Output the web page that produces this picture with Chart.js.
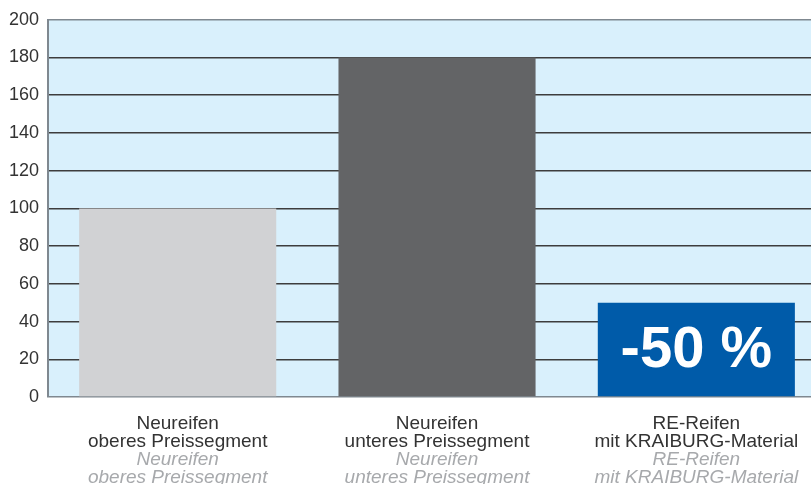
<!DOCTYPE html>
<html>
<head>
<meta charset="utf-8">
<script src="https://cdn.jsdelivr.net/npm/chart.js@4"></script>
<style>
  html, body { margin: 0; padding: 0; background: #fff; overflow: hidden; }
  #wrap { position: relative; width: 826px; height: 487px; }
</style>
</head>
<body>
<div id="wrap"><canvas id="chart"></canvas></div>
<script>
// empty first line = gap between the plot and the category labels
const categories = [
    ['', 'Neureifen', 'oberes Preissegment'],
    ['', 'Neureifen', 'unteres Preissegment'],
    ['', 'RE-Reifen', 'mit KRAIBURG-Material']
];
const translatedLabels = [
    ['Neureifen', 'oberes Preissegment'],
    ['Neureifen', 'unteres Preissegment'],
    ['RE-Reifen', 'mit KRAIBURG-Material']
];
const values = [100, 180, 50];
const barColors = ['#d1d2d4', '#636466', '#005ba9'];
const badgeText = ['', '', '-50 %'];

const FONT = '"Liberation Sans", Arial, Helvetica, sans-serif';

const plotBackground = {
    id: 'plotBackground',
    beforeDraw(chart) {
        const {ctx, chartArea: a} = chart;
        ctx.save();
        ctx.fillStyle = '#d9f0fc';
        ctx.fillRect(a.left, a.top, a.right - a.left, a.bottom - a.top);
        ctx.restore();
    }
};

const barBadges = {
    id: 'barBadges',
    afterDatasetsDraw(chart) {
        const {ctx} = chart;
        const meta = chart.getDatasetMeta(0);
        ctx.save();
        ctx.fillStyle = '#ffffff';
        ctx.font = 'bold 58px ' + FONT;
        ctx.textAlign = 'center';
        ctx.textBaseline = 'middle';
        meta.data.forEach((bar, i) => {
            if (!badgeText[i]) return;
            ctx.fillText(badgeText[i], bar.x, (bar.y + bar.base) / 2 + 2);
        });
        ctx.restore();
    }
};

new Chart(document.getElementById('chart').getContext('2d'), {
    type: 'bar',
    data: {
        labels: categories,
        datasets: [{
            data: values,
            backgroundColor: barColors,
            borderWidth: 0,
            barPercentage: 0.76,
            categoryPercentage: 1.0
        }]
    },
    options: {
        responsive: true,
        maintainAspectRatio: false,
        animation: false,
        layout: { padding: { top: 10, right: 0, left: 0, bottom: 0 } },
        plugins: {
            legend: { display: false },
            tooltip: { enabled: false }
        },
        scales: {
            x: {
                grid: { display: false, drawTicks: false },
                border: { display: false },
                ticks: {
                    color: '#333333',
                    font: { family: FONT, size: 19, lineHeight: '18px' },
                    padding: 0,
                    maxRotation: 0
                }
            },
            // second row of labels (grey italic), stacked under the first
            x2: {
                type: 'category',
                position: 'bottom',
                labels: translatedLabels,
                grid: { display: false, drawTicks: false },
                border: { display: false },
                ticks: {
                    color: '#a7a9ac',
                    font: { family: FONT, size: 19, style: 'italic', lineHeight: '18px' },
                    padding: 0,
                    maxRotation: 0
                }
            },
            y: {
                min: 0,
                max: 200,
                ticks: {
                    stepSize: 20,
                    color: '#333333',
                    font: { family: FONT, size: 18 },
                    padding: 9
                },
                grid: {
                    drawTicks: false,
                    lineWidth: 1.5,
                    color: (c) => (c.tick && (c.tick.value === 0 || c.tick.value === 200)) ? '#7f8890' : '#3d3d3d'
                },
                border: { color: '#7f8890', width: 2 }
            }
        }
    },
    plugins: [plotBackground, barBadges]
});
</script>
</body>
</html>
